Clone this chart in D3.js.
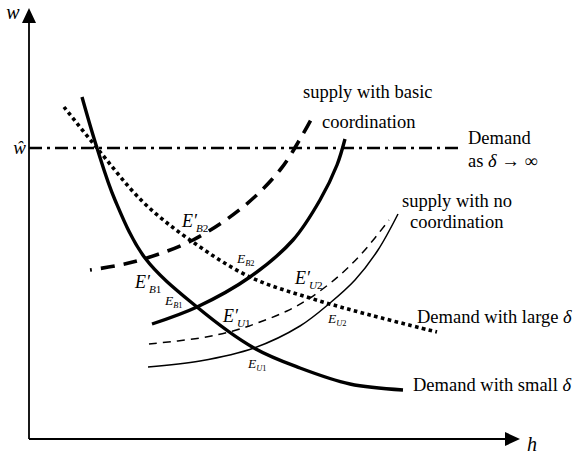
<!DOCTYPE html>
<html>
<head>
<meta charset="utf-8">
<script src="https://cdn.jsdelivr.net/npm/d3@7"></script>
<style>
  body { margin: 0; background: #fff; }
  svg { display: block; }
  text { font-family: "Liberation Serif", "Times New Roman", serif; fill: #000; }
</style>
</head>
<body>
<div id="chart"></div>
<script>
// curves in chart units (h along x, w along y)
var demandSmallH = [53, 68, 86, 116, 168, 225, 271, 321, 374];
var demandSmallW = [342, 291, 239, 181, 132, 91, 71, 55, 49];

var demandLargeH = [35, 68, 114, 161, 221, 281, 341, 408];
var demandLargeW = [332, 291, 237, 199, 162, 141, 124, 107];

var supplyBasicH = [123, 168, 221, 264, 291, 308, 316];
var supplyBasicW = [115, 132, 162, 199, 239, 274, 300];

var supplyBasicDashH = [61, 91, 118, 164, 214, 251, 274, 284];
var supplyBasicDashW = [169, 174, 181, 199, 232, 269, 305, 323];

var supplyNoH = [119, 171, 225, 271, 301, 326, 349, 369];
var supplyNoW = [72, 78, 91, 113, 136, 159, 189, 225];

var supplyNoDashH = [120, 171, 204, 231, 258, 281, 311, 335, 360];
var supplyNoDashW = [95, 101, 108, 117, 128, 141, 164, 188, 219];

var wHat = 291;
var hMax = 491, wMax = 431;

// equilibrium labels: name, subscript, primed?, h, w
var eqLabels = [
  ["E", ["B", "2"], true, 153, 212],
  ["E", ["B", "2"], false, 208, 176],
  ["E", ["B", "1"], true, 106, 151],
  ["E", ["B", "1"], false, 136, 134],
  ["E", ["U", "1"], true, 194, 117],
  ["E", ["U", "1"], false, 219, 71],
  ["E", ["U", "2"], true, 266, 155],
  ["E", ["U", "2"], false, 299, 116]
];

var width = 577, height = 454;

var x = d3.scaleLinear().domain([0, hMax]).range([29, 520]);
var y = d3.scaleLinear().domain([0, wMax]).range([439, 8]);

var svg = d3.select("#chart")
    .append("svg")
    .attr("width", width)
    .attr("height", height);

function pts(hs, ws) {
  return hs.map(function(h, i) { return [h, ws[i]]; });
}

var line = d3.line()
    .x(function(d) { return x(d[0]); })
    .y(function(d) { return y(d[1]); })
    .curve(d3.curveCatmullRom.alpha(0.5));

// axes
svg.append("line")
    .attr("x1", x(0)).attr("y1", y(0))
    .attr("x2", x(0)).attr("y2", y(wMax) + 12)
    .attr("stroke", "#000").attr("stroke-width", 1.8);
svg.append("line")
    .attr("x1", x(0)).attr("y1", y(0))
    .attr("x2", x(hMax) - 12).attr("y2", y(0))
    .attr("stroke", "#000").attr("stroke-width", 1.8);
svg.append("path")
    .attr("d", "M" + x(0) + "," + y(wMax) + "L" + (x(0) - 7) + "," + (y(wMax) + 15) + "L" + (x(0) + 7) + "," + (y(wMax) + 15) + "Z");
svg.append("path")
    .attr("d", "M" + x(hMax) + "," + y(0) + "L" + (x(hMax) - 15) + "," + (y(0) - 7) + "L" + (x(hMax) - 15) + "," + (y(0) + 7) + "Z");

svg.append("text")
    .attr("x", 13).attr("y", 19)
    .attr("text-anchor", "middle")
    .style("font-style", "italic").style("font-size", "20px")
    .text("w");
svg.append("text")
    .attr("x", 532).attr("y", 451)
    .attr("text-anchor", "middle")
    .style("font-style", "italic").style("font-size", "20px")
    .text("h");
svg.append("text")
    .attr("x", 26).attr("y", y(wHat) + 6)
    .attr("text-anchor", "end")
    .style("font-style", "italic").style("font-size", "19px")
    .text("\u0175");

// demand as delta -> infinity
svg.append("line")
    .attr("x1", x(0)).attr("y1", y(wHat))
    .attr("x2", x(432)).attr("y2", y(wHat))
    .attr("stroke", "#000").attr("stroke-width", 2.6)
    .attr("stroke-dasharray", "13,5,3,5");

// curves
var curves = [
  { d: pts(demandSmallH, demandSmallW), w: 3.4, dash: null },
  { d: pts(demandLargeH, demandLargeW), w: 3.6, dash: "3.6,3.4" },
  { d: pts(supplyBasicH, supplyBasicW), w: 3.4, dash: null },
  { d: pts(supplyBasicDashH, supplyBasicDashW), w: 3.6, dash: "14,9", off: 12 },
  { d: pts(supplyNoH, supplyNoW), w: 1.5, dash: null },
  { d: pts(supplyNoDashH, supplyNoDashW), w: 1.5, dash: "8,6" }
];

svg.selectAll(".curve")
    .data(curves)
    .enter()
    .append("path")
    .attr("class", "curve")
    .attr("d", function(c) { return line(c.d); })
    .attr("fill", "none")
    .attr("stroke", "#000")
    .attr("stroke-width", function(c) { return c.w; })
    .attr("stroke-dasharray", function(c) { return c.dash; })
    .attr("stroke-dashoffset", function(c) { return c.off || 0; });

// curve labels
function label(lines, h, w, gap) {
  var t = svg.append("text")
      .style("font-size", "18.5px");
  lines.forEach(function(l, i) {
    var ts = t.append("tspan")
        .attr("x", x(h + l.dx))
        .attr("y", y(w) + i * gap);
    l.parts.forEach(function(p) {
      ts.append("tspan")
          .style("font-style", p.it ? "italic" : "normal")
          .text(p.s);
    });
  });
}
label([{ dx: 0, parts: [{ s: "supply with basic" }] },
       { dx: 19, parts: [{ s: "coordination" }] }], 274, 341, 30);
label([{ dx: 0, parts: [{ s: "Demand" }] },
       { dx: 0, parts: [{ s: "as " }, { s: "\u03b4", it: true }, { s: " \u2192 \u221e" }] }], 439, 295, 23);
label([{ dx: 0, parts: [{ s: "supply with no" }] },
       { dx: 8, parts: [{ s: "coordination" }] }], 373, 232, 21);
label([{ dx: 0, parts: [{ s: "Demand with large " }, { s: "\u03b4", it: true }] }], 388, 116, 0);
label([{ dx: 0, parts: [{ s: "Demand with small " }, { s: "\u03b4", it: true }] }], 384, 48, 0);

// equilibrium labels
eqLabels.forEach(function(e) {
  var big = e[2];
  var fs = big ? 18 : 13.5;
  var t = svg.append("text")
      .attr("x", x(e[3]))
      .attr("y", y(e[4]))
      .style("font-size", fs + "px");
  t.append("tspan").style("font-style", "italic").text(big ? e[0] + "\u2032" : e[0]);
  t.append("tspan")
      .attr("dx", big ? -1 : 0)
      .attr("dy", big ? 5 : 3)
      .style("font-style", "italic")
      .style("font-size", (fs * 0.62) + "px")
      .text(e[1][0]);
  t.append("tspan")
      .style("font-size", (fs * 0.62) + "px")
      .text(e[1][1]);
});
</script>
</body>
</html>
